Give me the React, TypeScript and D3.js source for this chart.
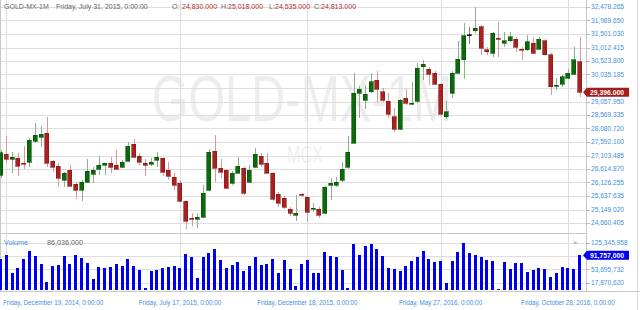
import React from "react";
import * as d3 from "d3";

const W = 640;
const H = 310;

// Weekly candles (GOLD-MX), Friday Dec 12, 2014 .. Friday Nov 11, 2016
const opens = [26397,27157,26976,27012,26831,26868,27628,27773,27917,26904,26723,26216,26578,26071,25854,26144,26433,26614,26759,26831,26759,26687,26904,27519,27085,26831,26795,26940,27012,26578,26325,26107,25456,24830,24804,24877,25854,27266,26650,26578,26107,26469,26650,26144,26687,27085,26831,26469,25709,25564,25166,24949,25709,25600,25166,25166,25021,26035,26035,26216,26687,27555,29365,29112,29402,29836,29402,29076,28497,28062,29184,28967,29076,30307,30234,30089,29691,28497,29365,30089,30560,31465,31610,31755,30922,30813,31356,31175,31248,31320,30958,30922,31175,30958,31248,30741,29619,29691,29908,30053,30488];
const highs = [27302,27809,27230,27193,27447,27736,28279,28171,28497,26940,26831,26506,26759,26144,26216,26976,26687,27085,26831,27049,27302,26940,27592,27700,27193,26976,27012,27230,27030,26868,26469,26216,25470,25018,25021,26035,27338,27845,26976,26600,26542,27049,26687,26759,27374,27193,27193,26506,25782,25637,25239,25673,25740,25620,25383,25239,25999,26288,26325,26868,27809,30089,29619,29655,30089,30162,29546,29365,28822,29148,29510,29764,30451,30560,30307,30162,29727,29076,30162,31248,31899,31755,32479,31827,31030,31574,31936,31574,31574,31393,31030,31465,31393,31393,31320,30813,29908,30017,30234,31030,31393];
const lows = [26288,26831,26469,26361,26614,26687,27555,27411,26687,26506,25963,25963,25963,25528,25456,26107,26107,26397,26397,26469,26578,26650,26868,27012,26759,26361,26723,26687,26361,26216,25854,25420,24442,24535,24478,24840,25818,26144,26288,25890,26035,26450,25673,26107,26650,26687,26450,25456,25239,25166,24913,24732,25620,24696,25058,24840,24990,25492,25963,26144,26614,27540,28460,28786,29365,29040,29040,28460,27954,28026,28931,28931,29003,29836,29655,29655,28569,28424,29184,30080,29872,31139,31537,30741,30741,30668,30668,31030,31212,30850,30560,30886,30800,30922,30720,29293,29474,29583,29872,30017,29221];
const closes = [27204,26976,27049,26723,26795,27664,27845,27881,26831,26687,26288,26469,25999,25854,26144,26542,26578,26759,26831,26687,26614,26868,27447,27049,26868,26759,26868,27049,26506,26361,26035,25456,24732,24813,24877,25745,27230,26650,26506,25926,26469,26723,25745,26578,27157,26795,26469,25528,25383,25239,25021,25021,25660,25058,25202,24949,25963,26107,26144,26614,27230,29365,29510,29329,29764,29510,29112,28605,28062,29112,29003,29003,30270,30415,30053,29691,28605,28678,30089,30596,31429,31465,31718,30994,30850,31537,31320,31248,31393,31030,30922,31212,30813,31320,30741,29583,29655,29945,30089,30560,29396];
const volumes = [81500000,92200000,43600000,56900000,81500000,103600000,89500000,67500000,20500000,63000000,65600000,90300000,67500000,92200000,83400000,70100000,28500000,59500000,57700000,61100000,68300000,63000000,81500000,63000000,51600000,3800000,49700000,52400000,56900000,59500000,63000000,56900000,95600000,86036000,31900000,86100000,98300000,107300000,78900000,56900000,64800000,73600000,49700000,63000000,86100000,65600000,68300000,80800000,44400000,78100000,54200000,9900000,67500000,78900000,44400000,43600000,100900000,89500000,86100000,52400000,3300000,120600000,92200000,116000000,120600000,108100000,89500000,58500000,54200000,50500000,63800000,77000000,86900000,102800000,81500000,74400000,77000000,18700000,77000000,100900000,123200000,97500000,92200000,86100000,78900000,76200000,1900000,74400000,54200000,70100000,70100000,47100000,53200000,56900000,55000000,33000000,45200000,59500000,58500000,54200000,91757000];

const priceTicks = [32478.265,31989.65,31501.03,31012.415,30523.8,30035.185,29546.565,29057.95,28569.335,28080.72,27592.1,27103.485,26614.87,26126.255,25637.635,25149.02,24660.405];
const volumeTicks = [125345958,89520845,53695732,17870620];
const dateTickDates = ["2014-12-19","2015-07-17","2015-12-18","2016-05-27","2016-10-28"];
const dateTickLabels = ["Friday, December 19, 2014, 0:00:00","Friday, July 17, 2015, 0:00:00","Friday, December 18, 2015, 0:00:00","Friday, May 27, 2016, 0:00:00","Friday, October 28, 2016, 0:00:00"];
const hoverIndex = 33;
const symbol = "GOLD-MX-1M";

const FONT = "'Liberation Sans', Arial, sans-serif";
const BLUE_TXT = "#3f8fdc";
const GRID = "#dedede";

export default function App() {
  const dates = d3.utcFriday.range(new Date(Date.UTC(2014, 11, 12)), new Date(Date.UTC(2016, 10, 12)));
  const x = d3.scaleUtc().domain([dates[0], dates[dates.length - 1]]).range([0.5, 579.5]);
  const y = d3.scaleLinear().domain([priceTicks[priceTicks.length - 1], priceTicks[0]]).range([223, 7]);
  const yv = d3.scaleLinear().domain([0, volumeTicks[0]]).range([289.7, 242.5]);
  const fmtP = d3.format(",.3f");
  const fmtV = d3.format(",");
  const fmtD = d3.utcFormat("%A, %B %-d, %Y, 0:00:00");
  const parse = d3.utcParse("%Y-%m-%d");
  const snap = (v: number) => Math.round(v) + 0.5;

  const last = opens.length - 1;
  const hv = hoverIndex;
  const lastPY = y(closes[last]);
  const lastVY = yv(volumes[last]);

  return (
    <svg width={W} height={H} style={{ position: "absolute", left: 0, top: 0, background: "#fff" }} fontFamily={FONT}>
      <rect x={0} y={0} width={W} height={H} fill="#fff" />
      {/* watermark */}
      <text x={302} y={121} fontSize={64} fill="#ededed" textAnchor="middle" textLength={300} lengthAdjust="spacingAndGlyphs">{symbol}</text>
      <text x={305} y={163} fontSize={24} fill="#f0f0f0" textAnchor="middle" textLength={36} lengthAdjust="spacingAndGlyphs">MCX</text>

      {/* price grid */}
      {priceTicks.map((t, i) => (
        <line key={"pg" + i} x1={0} x2={590} y1={snap(y(t))} y2={snap(y(t))} stroke={GRID} />
      ))}
      {/* volume grid */}
      {volumeTicks.map((t, i) => (
        <line key={"vg" + i} x1={0} x2={590} y1={snap(yv(t))} y2={snap(yv(t))} stroke={GRID} />
      ))}
      {/* vertical grid */}
      {dateTickDates.map((d, i) => {
        const xx = snap(x(parse(d) as Date));
        return <line key={"vx" + i} x1={xx} x2={xx} y1={0} y2={292} stroke={GRID} />;
      })}

      {/* panel borders */}
      <line x1={0.5} x2={0.5} y1={0} y2={292} stroke="#c8c8c8" />
      <line x1={0} x2={587} y1={233.5} y2={233.5} stroke="#c8c8c8" />
      <line x1={0} x2={640} y1={291.5} y2={291.5} stroke="#c8c8c8" />
      <line x1={586.5} x2={586.5} y1={0} y2={292} stroke="#c8c8c8" />
      <line x1={637.5} x2={637.5} y1={0} y2={310} stroke="#d8d8d8" />

      {/* volume bars */}
      {volumes.map((v, i) => (
        <rect key={"vb" + i} x={x(dates[i]) - 1.5} width={3} y={yv(v)} height={yv(0) - yv(v)} fill="#0000f0" shapeRendering="crispEdges" />
      ))}

      {/* candles */}
      {opens.map((o, i) => {
        const c = closes[i];
        const cx = x(dates[i]);
        const up = c > o;
        const doji = c === o;
        const wick = doji ? "#7a7a7a" : up ? "#8fb08f" : "#d49a9a";
        const fill = doji ? "#111" : up ? "#0b6b0b" : "#a82222";
        const stroke = doji ? "#111" : up ? "#075207" : "#8a1616";
        const top = y(Math.max(o, c));
        const bh = Math.max(1, Math.abs(y(o) - y(c)));
        return (
          <g key={"c" + i}>
            <line x1={snap(cx)} x2={snap(cx)} y1={y(highs[i])} y2={y(lows[i])} stroke={wick} strokeWidth={1} />
            <rect x={cx - 2} y={top} width={4} height={bh} fill={fill} stroke={stroke} strokeWidth={0.6} shapeRendering="crispEdges" />
          </g>
        );
      })}

      {/* header */}
      <g fontSize={7} fill="#666">
        <text x={4} y={8.8}>{symbol}</text>
        <text x={56} y={8.8}>{fmtD(dates[hv])}</text>
        <text x={172} y={8.8}>O:</text>
        <text x={182} y={8.8} fill="#b03030">{fmtP(opens[hv])}</text>
        <text x={221} y={8.8}>H:</text>
        <text x={228} y={8.8} fill="#b03030">{fmtP(highs[hv])}</text>
        <text x={269} y={8.8}>L:</text>
        <text x={275} y={8.8} fill="#b03030">{fmtP(lows[hv])}</text>
        <text x={314} y={8.8}>C:</text>
        <text x={321} y={8.8} fill="#b03030">{fmtP(closes[hv])}</text>
      </g>

      {/* price axis (labels hidden behind the last-price tag are skipped) */}
      {priceTicks.map((t, i) => (
        <g key={"pt" + i}>
          <line x1={586} x2={590} y1={snap(y(t))} y2={snap(y(t))} stroke="#bbb" />
          {Math.abs(y(t) - lastPY) > 7 && (
            <text x={591} y={y(t) + 2.4} fontSize={6.6} fill={BLUE_TXT}>{fmtP(t)}</text>
          )}
        </g>
      ))}
      {/* volume axis */}
      {volumeTicks.map((t, i) => (
        <g key={"vt" + i}>
          <line x1={586} x2={590} y1={snap(yv(t))} y2={snap(yv(t))} stroke="#bbb" />
          {Math.abs(yv(t) - lastVY) > 7 && (
            <text x={591} y={yv(t) + 2.4} fontSize={6.6} fill={BLUE_TXT}>{fmtV(t)}</text>
          )}
        </g>
      ))}

      {/* last price label */}
      <g>
        <path d={`M583,${lastPY} L587,${lastPY - 4.5} L629,${lastPY - 4.5} L629,${lastPY + 4.5} L587,${lastPY + 4.5} Z`} fill="#a51c1c" />
        <text x={590} y={lastPY + 2.5} fontSize={6.8} fontWeight="bold" fill="#fff">{fmtP(closes[last])}</text>
      </g>
      <g>
        <path d={`M583,${lastVY} L587,${lastVY - 4.5} L629,${lastVY - 4.5} L629,${lastVY + 4.5} L587,${lastVY + 4.5} Z`} fill="#0000f0" />
        <text x={590} y={lastVY + 2.5} fontSize={6.8} fontWeight="bold" fill="#fff">{fmtV(volumes[last])}</text>
      </g>

      {/* volume legend */}
      <text x={4} y={245} fontSize={7.2} fill={BLUE_TXT}>Volume</text>
      <text x={47} y={245} fontSize={7.2} fill="#666">{fmtV(volumes[hv])}</text>
      <text x={575} y={245} fontSize={8} fill="#999" textAnchor="middle">×</text>

      {/* date axis */}
      {dateTickDates.map((d, i) => {
        const xx = x(parse(d) as Date);
        const first = i === 0;
        return (
          <text key={"dt" + i} x={first ? 3 : xx} y={305} fontSize={6.3} fill={BLUE_TXT} textAnchor={first ? "start" : "middle"}>
            {dateTickLabels[i]}
          </text>
        );
      })}
    </svg>
  );
}
